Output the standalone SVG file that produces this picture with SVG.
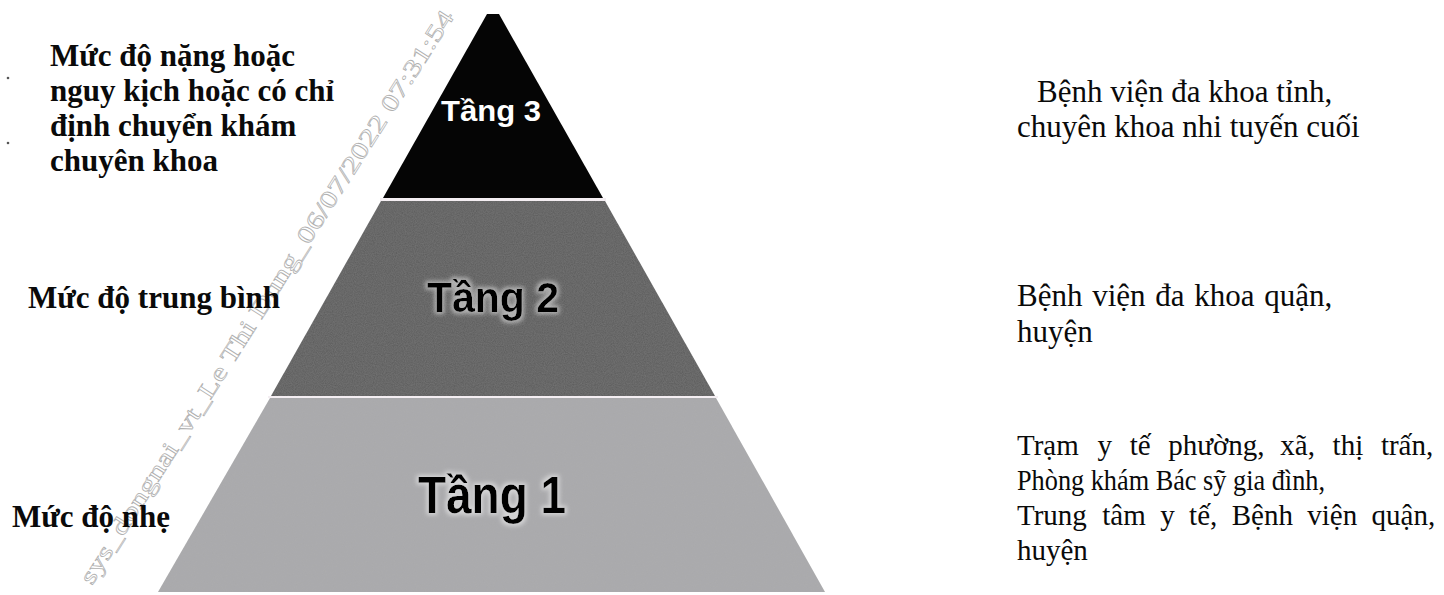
<svg xmlns="http://www.w3.org/2000/svg" width="1444" height="595" viewBox="0 0 1444 595">
  <style>
    .lbl { font-family: "Liberation Serif", "Times New Roman", serif; font-size: 31px; font-weight: bold; fill: #0a0a0a; }
    .rt { font-family: "Liberation Serif", "Times New Roman", serif; font-size: 31px; fill: #0a0a0a; }
    .rs { font-family: "Liberation Serif", "Times New Roman", serif; font-size: 29px; fill: #0a0a0a; }
    .tier { font-family: "Liberation Sans", Arial, sans-serif; font-weight: bold; text-anchor: middle; }
    .sep { fill: #f4eef2; }
    .wm { font-family: "Liberation Serif", "Times New Roman", serif; font-size: 24px; fill: none; stroke: #b0b0b0; stroke-width: 0.7; }
  </style>
  <defs>
    <filter id="noise" x="0" y="0" width="100%" height="100%">
      <feTurbulence type="fractalNoise" baseFrequency="0.9" numOctaves="2" seed="3" result="n"/>
      <feColorMatrix in="n" type="matrix" values="0 0 0 0 0.5  0 0 0 0 0.5  0 0 0 0 0.5  0 0 0 0.18 0" result="g"/>
      <feComposite in="g" in2="SourceGraphic" operator="in" result="gi"/>
      <feMerge><feMergeNode in="SourceGraphic"/><feMergeNode in="gi"/></feMerge>
    </filter>
    <filter id="glow" x="-20%" y="-30%" width="140%" height="160%">
      <feMorphology in="SourceAlpha" operator="dilate" radius="1.5" result="d"/>
      <feGaussianBlur in="d" stdDeviation="2" result="b"/>
      <feFlood flood-color="#ffffff" flood-opacity="0.5"/>
      <feComposite in2="b" operator="in" result="h"/>
      <feMerge><feMergeNode in="h"/><feMergeNode in="SourceGraphic"/></feMerge>
    </filter>
  </defs>

  <rect width="1444" height="595" fill="#ffffff"/>

  <!-- watermark -->
  <text class="wm" x="0" y="0" transform="translate(92,586) rotate(-57.5)" textLength="675" lengthAdjust="spacingAndGlyphs">sys_dongnai_vt_Le Thi Dung_06/07/2022 07:31:54</text>

  <!-- specks -->
  <circle cx="8" cy="78" r="1.3" fill="#555"/>
  <circle cx="8" cy="143" r="1.3" fill="#555"/>

  <g id="tier3">
    <polygon points="487,14 499,14 603,198 383,198" fill="#050505"/>
    <text class="tier" x="491" y="121" font-size="30" fill="#ffffff" textLength="100" lengthAdjust="spacingAndGlyphs">Tầng 3</text>
  </g>
  <rect class="sep" x="380" y="198" width="226" height="3"/>
  <g id="tier2">
    <polygon points="381,201 605,201 715,396 271,396" fill="#5b5b5c" filter="url(#noise)"/>
    <text class="tier" x="493" y="312" font-size="42" fill="#000000" filter="url(#glow)" textLength="132" lengthAdjust="spacingAndGlyphs">Tầng 2</text>
  </g>
  <rect class="sep" x="268" y="396" width="450" height="2"/>
  <g id="tier1">
    <polygon points="270,398 716,398 825,592 158,592" fill="#a9a9ab" filter="url(#noise)"/>
    <text class="tier" x="492" y="513" font-size="51" fill="#000000" filter="url(#glow)" textLength="148" lengthAdjust="spacingAndGlyphs">Tầng 1</text>
  </g>

  <g id="left-labels">
    <text class="lbl" x="50" y="66">Mức độ nặng hoặc</text>
    <text class="lbl" x="50" y="101">nguy kịch hoặc có chỉ</text>
    <text class="lbl" x="50" y="136">định chuyển khám</text>
    <text class="lbl" x="50" y="171">chuyên khoa</text>
    <text class="lbl" x="28" y="308">Mức độ trung bình</text>
    <text class="lbl" x="12" y="527">Mức độ nhẹ</text>
  </g>

  <g id="right-labels">
    <text class="rt" x="1037" y="102">Bệnh viện đa khoa tỉnh,</text>
    <text class="rt" x="1017" y="137">chuyên khoa nhi tuyến cuối</text>
    <text class="rt" x="1017" y="306" word-spacing="2">Bệnh viện đa khoa quận,</text>
    <text class="rt" x="1017" y="342">huyện</text>
    <text class="rs" y="455"><tspan x="1017">Trạm</tspan><tspan x="1097.5">y</tspan><tspan x="1129.7">tế</tspan><tspan x="1168.3">phường,</tspan><tspan x="1280.3">xã,</tspan><tspan x="1332.6">thị</tspan><tspan x="1380.9">trấn,</tspan></text>
    <text class="rs" x="1017" y="490" textLength="308" lengthAdjust="spacingAndGlyphs">Phòng khám Bác sỹ gia đình,</text>
    <text class="rs" y="525"><tspan x="1017">Trung</tspan><tspan x="1102.3">tâm</tspan><tspan x="1160.2">y</tspan><tspan x="1189.1">tế,</tspan><tspan x="1231.7">Bệnh</tspan><tspan x="1307.3">viện</tspan><tspan x="1371.6">quận,</tspan></text>
    <text class="rs" x="1017" y="560">huyện</text>
  </g>
</svg>
